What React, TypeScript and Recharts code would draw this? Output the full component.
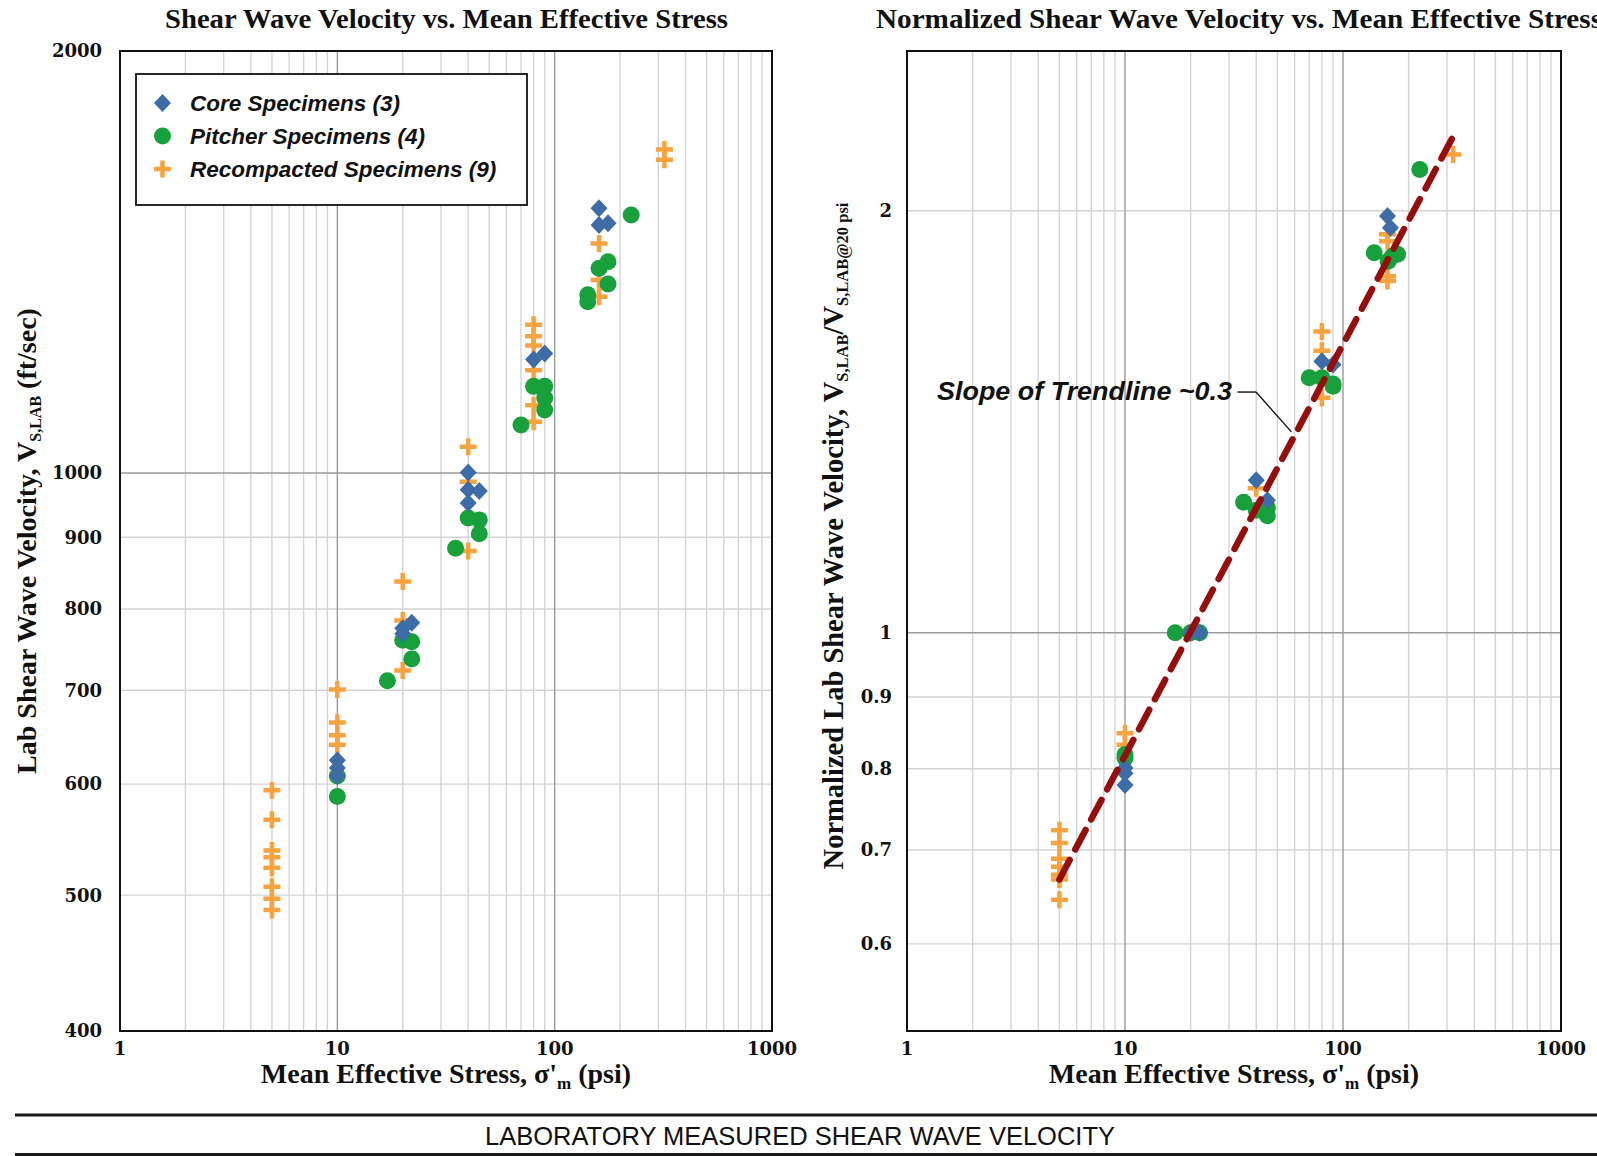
import React from "react";
import {
  CartesianGrid,
  Legend,
  ReferenceArea,
  ReferenceLine,
  Scatter,
  ScatterChart,
  XAxis,
  YAxis,
} from "recharts";

// Lab shear wave velocity (ft/sec) vs. mean effective stress (psi)
const coreStress = [10, 10, 10, 20, 22, 20, 40, 40, 45, 40, 80, 90, 160, 160, 176];
const coreVs = [624, 616, 608, 775, 782, 768, 1001, 973, 971, 952, 1205, 1217, 1545, 1503, 1507];

const pitcherStress = [10, 10, 17, 20, 22, 22, 35, 40, 45, 45, 70, 80, 90, 90, 90, 142, 142, 160, 176, 176, 225];
const pitcherVs = [608, 588, 711, 760, 758, 737, 884, 929, 926, 905, 1082, 1153, 1153, 1131, 1109, 1340, 1325, 1400, 1415, 1364, 1528];

const recompStress = [5, 5, 5, 5, 5, 5, 5, 5, 10, 10, 10, 10, 20, 20, 20, 40, 40, 40, 80, 80, 80, 80, 80, 80, 160, 160, 160, 320, 320];
const recompVs = [594, 566, 538, 532, 523, 507, 497, 488, 701, 664, 650, 640, 837, 785, 723, 1044, 986, 880, 1276, 1252, 1233, 1184, 1118, 1088, 1458, 1373, 1336, 1701, 1673];

// Vs normalized by Vs at 20 psi
const coreNormStress = [10, 10, 10, 20, 22, 40, 45, 80, 90, 160, 165];
const coreNorm = [0.801, 0.794, 0.779, 1, 1, 1.285, 1.243, 1.562, 1.554, 1.983, 1.945];

const pitcherNormStress = [10, 10, 17, 20, 22, 35, 40, 45, 45, 70, 80, 90, 90, 139, 161, 169, 178, 225];
const pitcherNorm = [0.819, 0.814, 1, 1, 1, 1.239, 1.223, 1.212, 1.228, 1.52, 1.52, 1.499, 1.505, 1.867, 1.841, 1.857, 1.862, 2.14];

const recompNormStress = [5, 5, 5, 5, 5, 5, 5, 10, 10, 20, 40, 80, 80, 80, 160, 160, 160, 160, 320];
const recompNorm = [0.723, 0.708, 0.69, 0.681, 0.672, 0.667, 0.645, 0.848, 0.832, 1, 1.268, 1.64, 1.589, 1.471, 1.924, 1.902, 1.796, 1.782, 2.194];

// power-law trendline end points
const trendStress = [5, 325];
const trendNorm = [0.667, 2.27];

// leader from the slope note to the trendline
const leaderStress = [32.8, 39.9, 58];
const leaderNorm = [1.485, 1.485, 1.391];

// axes
const stressTicks = [1, 10, 100, 1000];
const stressMajor = [10, 100];
const stressMinor = [2, 3, 4, 5, 6, 7, 8, 9, 20, 30, 40, 50, 60, 70, 80, 90, 200, 300, 400, 500, 600, 700, 800, 900];
const vsTicks = [400, 500, 600, 700, 800, 900, 1000, 2000];
const vsMajor = [1000];
const vsMinor = [500, 600, 700, 800, 900];
const normTicks = [0.6, 0.7, 0.8, 0.9, 1, 2];
const normMajor = [1];
const normMinor = [0.6, 0.7, 0.8, 0.9, 2];

const BLUE = "#3d6ca6";
const GREEN = "#17a03c";
const ORANGE = "#f6a340";
const TREND = "#950e0e";

const toPoints = (xs: number[], ys: number[]) => xs.map((x, i) => ({ x, y: ys[i] }));

const Diamond = (p: any) => (
  <polygon
    points={`${p.cx},${p.cy - 9} ${p.cx + 8.5},${p.cy} ${p.cx},${p.cy + 9} ${p.cx - 8.5},${p.cy}`}
    fill={BLUE}
  />
);
const Dot = (p: any) => <circle cx={p.cx} cy={p.cy} r={8.5} fill={GREEN} />;
const Plus = (p: any) => (
  <path
    d={`M${p.cx - 8.5},${p.cy}H${p.cx + 8.5}M${p.cx},${p.cy - 8.5}V${p.cy + 8.5}`}
    stroke={ORANGE}
    strokeWidth={4.5}
  />
);
const NoMark = () => <g />;

const tickStyle = { fill: "#111", fontSize: 18, fontFamily: "DejaVu Serif", fontWeight: "bold" };
const serif = "'Liberation Serif', 'Times New Roman', serif";
const sans = "'Liberation Sans', Arial, sans-serif";

const legendRows = [
  { label: "Core Specimens (3)", mark: "diamond" },
  { label: "Pitcher Specimens (4)", mark: "circle" },
  { label: "Recompacted Specimens (9)", mark: "plus" },
];

function LegendBox() {
  return (
    <svg width={393} height={133} style={{ display: "block" }}>
      <rect x={1} y={1} width={391} height={131} fill="#fff" stroke="#111" strokeWidth={1.8} />
      {legendRows.map((r, i) => {
        const cy = 30 + i * 33;
        const cx = 27.5;
        return (
          <g key={r.label}>
            {r.mark === "diamond" && <Diamond cx={cx} cy={cy} />}
            {r.mark === "circle" && <Dot cx={cx} cy={cy} />}
            {r.mark === "plus" && <Plus cx={cx} cy={cy} />}
            <text
              x={55}
              y={cy + 8}
              fontFamily={sans}
              fontWeight="bold"
              fontStyle="italic"
              fontSize={22.5}
              fill="#111"
            >
              {r.label}
            </text>
          </g>
        );
      })}
    </svg>
  );
}

function VelocityChart() {
  return (
    <ScatterChart width={800} height={1100} margin={{ top: 51, right: 28, bottom: 0, left: 0 }}>
      <CartesianGrid verticalValues={stressMinor} horizontalValues={vsMinor} stroke="#d4d4d4" strokeWidth={1.4} />
      <CartesianGrid verticalValues={stressMajor} horizontalValues={vsMajor} stroke="#9a9a9a" strokeWidth={1.4} />
      <XAxis
        type="number"
        dataKey="x"
        scale="log"
        domain={[1, 1000]}
        ticks={stressTicks}
        interval={0}
        allowDataOverflow
        axisLine={false}
        tickLine={false}
        tickSize={0}
        tickMargin={11}
        height={69}
        tick={tickStyle}
      />
      <YAxis
        type="number"
        dataKey="y"
        scale="log"
        domain={[400, 2000]}
        ticks={vsTicks}
        interval={0}
        allowDataOverflow
        axisLine={false}
        tickLine={false}
        tickSize={0}
        tickMargin={18}
        width={120}
        tick={tickStyle}
      />
      <ReferenceArea x1={1} x2={1000} y1={400} y2={2000} fill="none" stroke="#111" strokeWidth={2} />
      <Scatter name="Recompacted Specimens (9)" data={toPoints(recompStress, recompVs)} shape={Plus} isAnimationActive={false} />
      <Scatter name="Pitcher Specimens (4)" data={toPoints(pitcherStress, pitcherVs)} shape={Dot} isAnimationActive={false} />
      <Scatter name="Core Specimens (3)" data={toPoints(coreStress, coreVs)} shape={Diamond} isAnimationActive={false} />
      <Legend
        layout="vertical"
        align="center"
        verticalAlign="middle"
        wrapperStyle={{ left: 135, top: 73, width: 393, height: 133 }}
        content={() => <LegendBox />}
      />
    </ScatterChart>
  );
}

function NormalizedChart() {
  const trend = toPoints(trendStress, trendNorm);
  const leader = toPoints(leaderStress, leaderNorm);
  return (
    <ScatterChart width={797} height={1100} margin={{ top: 51, right: 36, bottom: 0, left: 0 }}>
      <CartesianGrid verticalValues={stressMinor} horizontalValues={normMinor} stroke="#d4d4d4" strokeWidth={1.4} />
      <CartesianGrid verticalValues={stressMajor} horizontalValues={normMajor} stroke="#9a9a9a" strokeWidth={1.4} />
      <XAxis
        type="number"
        dataKey="x"
        scale="log"
        domain={[1, 1000]}
        ticks={stressTicks}
        interval={0}
        allowDataOverflow
        axisLine={false}
        tickLine={false}
        tickSize={0}
        tickMargin={11}
        height={69}
        tick={tickStyle}
      />
      <YAxis
        type="number"
        dataKey="y"
        scale="log"
        domain={[0.52, 2.6]}
        ticks={normTicks}
        interval={0}
        allowDataOverflow
        axisLine={false}
        tickLine={false}
        tickSize={0}
        tickMargin={15}
        width={107}
        tick={tickStyle}
      />
      <ReferenceArea x1={1} x2={1000} y1={0.52} y2={2.6} fill="none" stroke="#111" strokeWidth={2} />
      <Scatter data={toPoints(recompNormStress, recompNorm)} shape={Plus} isAnimationActive={false} />
      <Scatter data={toPoints(pitcherNormStress, pitcherNorm)} shape={Dot} isAnimationActive={false} />
      <Scatter data={toPoints(coreNormStress, coreNorm)} shape={Diamond} isAnimationActive={false} />
      <Scatter
        data={trend}
        fill={TREND}
        shape={NoMark}
        line={{ stroke: TREND, strokeWidth: 6.5, strokeDasharray: "22 12", strokeLinecap: "round" }}
        isAnimationActive={false}
      />
      <ReferenceLine segment={[leader[0], leader[1]]} stroke="#111" strokeWidth={1.4} />
      <ReferenceLine segment={[leader[1], leader[2]]} stroke="#111" strokeWidth={1.4} />
    </ScatterChart>
  );
}

export default function App() {
  return (
    <div
      style={{
        position: "absolute",
        left: 0,
        top: 0,
        width: 1597,
        height: 1156,
        background: "#fff",
        overflow: "hidden",
      }}
    >
      <div style={{ position: "absolute", left: 0, top: 0 }}>
        <VelocityChart />
      </div>
      <div style={{ position: "absolute", left: 800, top: 0 }}>
        <NormalizedChart />
      </div>
      <svg
        width={1597}
        height={1156}
        style={{ position: "absolute", left: 0, top: 0, pointerEvents: "none" }}
      >
        <g fontFamily={serif} fontWeight="bold" fill="#111">
          <text x={165} y={28} fontSize={28} textLength={563} lengthAdjust="spacingAndGlyphs">
            Shear Wave Velocity vs. Mean Effective Stress
          </text>
          <text x={876} y={28} fontSize={28} textLength={726} lengthAdjust="spacingAndGlyphs">
            Normalized Shear Wave Velocity vs. Mean Effective Stress
          </text>
          <text x={446} y={1083} fontSize={28} textAnchor="middle">
            Mean Effective Stress, σ'
            <tspan fontSize={17} dy={6}>m</tspan>
            <tspan dy={-6}> (psi)</tspan>
          </text>
          <text x={1234} y={1083} fontSize={28} textAnchor="middle">
            Mean Effective Stress, σ'
            <tspan fontSize={17} dy={6}>m</tspan>
            <tspan dy={-6}> (psi)</tspan>
          </text>
          <text transform="translate(35.5,541) rotate(-90)" fontSize={28} textAnchor="middle">
            Lab Shear Wave Velocity, V
            <tspan fontSize={16} dy={5}>S,LAB</tspan>
            <tspan dy={-5}> (ft/sec)</tspan>
          </text>
          <text transform="translate(843,536) rotate(-90)" fontSize={28.5} textAnchor="middle">
            Normalized Lab Shear Wave Velocity, V
            <tspan fontSize={16.5} dy={5}>S,LAB</tspan>
            <tspan dy={-5}>/V</tspan>
            <tspan fontSize={16.5} dy={5}>S,LAB@20 psi</tspan>
          </text>
        </g>
        <text
          x={937}
          y={400}
          fontFamily={sans}
          fontWeight="bold"
          fontStyle="italic"
          fontSize={26}
          fill="#111"
          textLength={295}
          lengthAdjust="spacingAndGlyphs"
        >
          Slope of Trendline ~0.3
        </text>
        <line x1={15} y1={1115} x2={1597} y2={1115} stroke="#1a1a1a" strokeWidth={3} />
        <text
          x={485}
          y={1145}
          fontFamily={sans}
          fontSize={25}
          fill="#111"
          textLength={630}
          lengthAdjust="spacingAndGlyphs"
        >
          LABORATORY MEASURED SHEAR WAVE VELOCITY
        </text>
        <line x1={15} y1={1154.5} x2={1597} y2={1154.5} stroke="#1a1a1a" strokeWidth={3} />
      </svg>
    </div>
  );
}
